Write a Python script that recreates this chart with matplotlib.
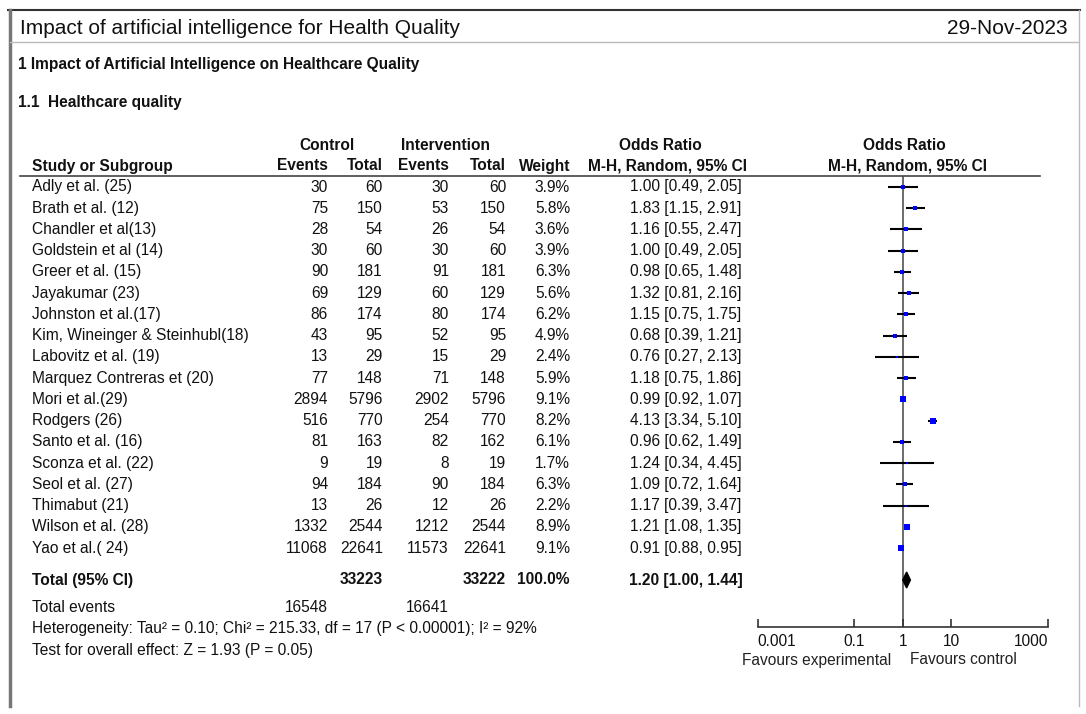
import matplotlib
matplotlib.use("Agg")
import matplotlib.pyplot as plt
import numpy as np

plt.rcParams['font.family'] = ['Liberation Sans', 'DejaVu Sans']

studies = ["Adly et al. (25)", "Brath et al. (12)", "Chandler et al(13)", "Goldstein et al (14)",
           "Greer et al. (15)", "Jayakumar (23)", "Johnston et al.(17)", "Kim, Wineinger & Steinhubl(18)",
           "Labovitz et al. (19)", "Marquez Contreras et (20)", "Mori et al.(29)", "Rodgers (26)",
           "Santo et al. (16)", "Sconza et al. (22)", "Seol et al. (27)", "Thimabut (21)",
           "Wilson et al. (28)", "Yao et al.( 24)"]
ctrl_events = [30, 75, 28, 30, 90, 69, 86, 43, 13, 77, 2894, 516, 81, 9, 94, 13, 1332, 11068]
ctrl_total = [60, 150, 54, 60, 181, 129, 174, 95, 29, 148, 5796, 770, 163, 19, 184, 26, 2544, 22641]
int_events = [30, 53, 26, 30, 91, 60, 80, 52, 15, 71, 2902, 254, 82, 8, 90, 12, 1212, 11573]
int_total = [60, 150, 54, 60, 181, 129, 174, 95, 29, 148, 5796, 770, 162, 19, 184, 26, 2544, 22641]
weights = [3.9, 5.8, 3.6, 3.9, 6.3, 5.6, 6.2, 4.9, 2.4, 5.9, 9.1, 8.2, 6.1, 1.7, 6.3, 2.2, 8.9, 9.1]
odds = [1.00, 1.83, 1.16, 1.00, 0.98, 1.32, 1.15, 0.68, 0.76, 1.18, 0.99, 4.13, 0.96, 1.24, 1.09, 1.17, 1.21, 0.91]
ci_low = [0.49, 1.15, 0.55, 0.49, 0.65, 0.81, 0.75, 0.39, 0.27, 0.75, 0.92, 3.34, 0.62, 0.34, 0.72, 0.39, 1.08, 0.88]
ci_high = [2.05, 2.91, 2.47, 2.05, 1.48, 2.16, 1.75, 1.21, 2.13, 1.86, 1.07, 5.10, 1.49, 4.45, 1.64, 3.47, 1.35, 0.95]

total_ctrl = 33223
total_int = 33222
total_weight = "100.0%"
total_or, total_lo, total_hi = 1.20, 1.00, 1.44
total_ctrl_events = 16548
total_int_events = 16641

tick_vals = [0.001, 0.1, 1, 10, 1000]
tick_labels = ["0.001", "0.1", "1", "10", "1000"]

W, H = 1086, 714
fig = plt.figure(figsize=(W / 100, H / 100), dpi=100)
fig.patch.set_facecolor('white')
bg = fig.add_axes([0, 0, 1, 1])
bg.set_xlim(0, W)
bg.set_ylim(H, 0)
bg.axis('off')

# frame
bg.plot([8, 1080], [10, 10], color='#333333', lw=1.5)
bg.plot([10, 10], [10, 706], color='#777777', lw=2.5)
bg.plot([1079, 1079], [10, 706], color='#bbbbbb', lw=1)
bg.plot([10, 1079], [42, 42], color='#bbbbbb', lw=1)
bg.plot([20, 1040], [176, 176], color='#444444', lw=1.2)

tc = '#111111'
fs = 11.2
bg.text(20, 28, "Impact of artificial intelligence for Health Quality", fontsize=15, va='center', ha='left', color=tc)
bg.text(1068, 28, "29-Nov-2023", fontsize=15, va='center', ha='right', color=tc)
bg.text(18, 65, "1 Impact of Artificial Intelligence on Healthcare Quality", fontsize=fs, fontweight='bold', va='center', color=tc)
bg.text(18, 103, "1.1  Healthcare quality", fontsize=fs, fontweight='bold', va='center', color=tc)

# headers
hb = dict(fontsize=fs, fontweight='bold', va='center', color=tc)
bg.text(327, 145, "Control", ha='center', **hb)
bg.text(445, 145, "Intervention", ha='center', **hb)
bg.text(660, 145, "Odds Ratio", ha='center', **hb)
bg.text(904, 145, "Odds Ratio", ha='center', **hb)
bg.text(32, 166, "Study or Subgroup", ha='left', **hb)
bg.text(328, 166, "Events", ha='right', **hb)
bg.text(383, 166, "Total", ha='right', **hb)
bg.text(449, 166, "Events", ha='right', **hb)
bg.text(506, 166, "Total", ha='right', **hb)
bg.text(570, 166, "Weight", ha='right', **hb)
bg.text(667, 166, "M-H, Random, 95% CI", ha='center', **hb)
bg.text(907, 166, "M-H, Random, 95% CI", ha='center', **hb)

row0, dy = 187, 21.24
ys = [row0 + dy * i for i in range(len(studies))]
nb = dict(fontsize=fs, va='center', color=tc)
for i, y in enumerate(ys):
    bg.text(32, y, studies[i], ha='left', **nb)
    bg.text(328, y, str(ctrl_events[i]), ha='right', **nb)
    bg.text(383, y, str(ctrl_total[i]), ha='right', **nb)
    bg.text(449, y, str(int_events[i]), ha='right', **nb)
    bg.text(506, y, str(int_total[i]), ha='right', **nb)
    bg.text(570, y, f"{weights[i]:.1f}%", ha='right', **nb)
    bg.text(686, y, f"{odds[i]:.2f} [{ci_low[i]:.2f}, {ci_high[i]:.2f}]", ha='center', **nb)

yt = 580
bg.text(32, yt, "Total (95% CI)", ha='left', **hb)
bg.text(383, yt, str(total_ctrl), ha='right', **hb)
bg.text(506, yt, str(total_int), ha='right', **hb)
bg.text(570, yt, total_weight, ha='right', **hb)
bg.text(686, yt, f"{total_or:.2f} [{total_lo:.2f}, {total_hi:.2f}]", ha='center', **hb)
bg.text(32, 607, "Total events", ha='left', **nb)
bg.text(328, 607, str(total_ctrl_events), ha='right', **nb)
bg.text(449, 607, str(total_int_events), ha='right', **nb)
bg.text(32, 629, "Heterogeneity: Tau² = 0.10; Chi² = 215.33, df = 17 (P < 0.00001); I² = 92%", ha='left', **nb)
bg.text(32, 651, "Test for overall effect: Z = 1.93 (P = 0.05)", ha='left', **nb)
bg.text(817, 660, "Favours experimental", ha='center', fontsize=fs, va='center', color='#222222')
bg.text(963, 660, "Favours control", ha='center', fontsize=fs, va='center', color='#222222')

# forest axes
x0, x1 = 757.5, 1048
ytop, ybot = 176, 627
ax = fig.add_axes([x0 / W, (H - ybot) / H, (x1 - x0) / W, (ybot - ytop) / H])
ax.set_xscale('log')
ax.set_xlim(tick_vals[0], tick_vals[-1])
ax.set_ylim(ybot, ytop)
ax.patch.set_alpha(0)
for s in ['top', 'right', 'left']:
    ax.spines[s].set_visible(False)
ax.spines['bottom'].set_color('#333333')
ax.spines['bottom'].set_linewidth(1.2)
ax.set_yticks([])
ax.xaxis.set_minor_locator(matplotlib.ticker.NullLocator())
ax.set_xticks(tick_vals)
ax.set_xticklabels(tick_labels)
ax.tick_params(axis='x', direction='in', length=6, width=1.2, color='#333333', labelsize=fs, pad=5, labelcolor=tc)
lbls = ax.get_xticklabels()
lbls[0].set_ha('left')
lbls[-1].set_ha('right')
ax.axvline(1, color='#444444', lw=1.1, zorder=1)

for i, y in enumerate(ys):
    ax.plot([ci_low[i], ci_high[i]], [y, y], color='black', lw=1.5, solid_capstyle='butt', zorder=2)
    side_px = 1.9 * np.sqrt(weights[i])
    ax.plot([odds[i]], [y], marker='s', color='#0000ff', markersize=side_px * 0.72,
            markeredgewidth=0, linestyle='none', zorder=3)

ax.fill([total_lo, total_or, total_hi, total_or], [yt, yt - 8, yt, yt + 8], color='black', zorder=3)

fig.savefig("out.png", dpi=100)
